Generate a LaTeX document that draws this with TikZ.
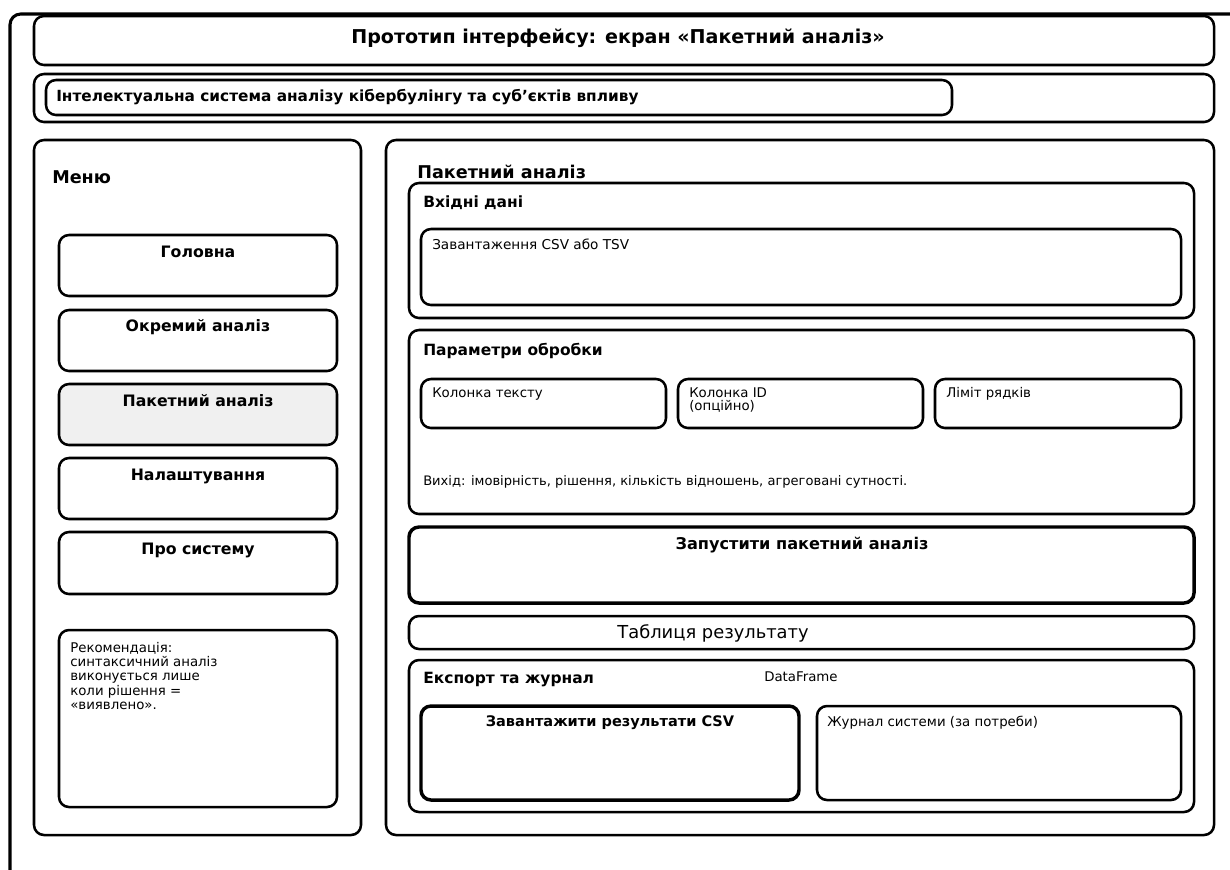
\documentclass[tikz,border=0pt]{standalone}
\usepackage{fontspec}
\setmainfont{DejaVu Sans}
\tikzset{
  frame/.style={draw=black, line width=2.3pt, rounded corners=8pt},
  box/.style={draw=black, line width=1.9pt, rounded corners=7.5pt},
  boldbox/.style={draw=black, line width=2.6pt, rounded corners=7.5pt},
  selbox/.style={box, fill=black!6},
  head/.style={inner sep=0pt, font=\bfseries\fontsize{14.3}{17}\selectfont},
  lbl/.style={inner sep=0pt, anchor=west, font=\bfseries\fontsize{11.6}{14}\selectfont},
  btn/.style={inner sep=0pt, font=\bfseries\fontsize{11.8}{14}\selectfont},
  txt/.style={inner sep=0pt, anchor=west, font=\fontsize{10}{12}\selectfont},
}
\begin{document}
\begin{tikzpicture}[x=0.75pt, y=-0.75pt]
\useasboundingbox (0,0) rectangle (1230,869);
\begin{scope}
\clip (0,0) rectangle (1230,869);
% outer window frame
\draw[frame] (10,14) rectangle (1260,900);
\end{scope}

% header bars
\draw[box] (34,16) rectangle (1214,65);
\node[head] (title) at (618,38) {Прототип інтерфейсу: екран «Пакетний аналіз»};
\draw[box] (34,74) rectangle (1214,122);
\draw[box] (46,80) rectangle (952,115);
\node[lbl, font=\bfseries\fontsize{11.5}{14}\selectfont] (subtitle) at (56,97) {Інтелектуальна система аналізу кібербулінгу та суб’єктів впливу};

% left menu panel
\draw[box] (34,140) rectangle (361,835);
\node[lbl, font=\bfseries\fontsize{13.2}{15}\selectfont] (menu) at (52,177) {Меню};

\draw[box] (59,235) rectangle (337,296);
\node[btn] (m1) at (198,252) {Головна};
\draw[box] (59,310) rectangle (337,371);
\node[btn] (m2) at (198,327) {Окремий аналіз};
\draw[selbox] (59,384) rectangle (337,445);
\node[btn] (m3) at (198,401) {Пакетний аналіз};
\draw[box] (59,458) rectangle (337,519);
\node[btn] (m4) at (198,476) {Налаштування};
\draw[box] (59,532) rectangle (337,594);
\node[btn] (m5) at (198,550) {Про систему};

\draw[box] (59,630) rectangle (337,807);
\node[txt, anchor=north west, align=left, font=\fontsize{10}{10.7}\selectfont] (note) at (70,642)
  {Рекомендація:\\синтаксичний аналіз\\виконується лише\\коли рішення =\\«виявлено».};

% right content panel
\draw[box] (386,140) rectangle (1214,835);
\node[lbl, font=\bfseries\fontsize{13.2}{15}\selectfont] (ptitle) at (417,172) {Пакетний аналіз};

% input data
\draw[box] (409,183) rectangle (1194,318);
\node[lbl] (inhead) at (423,203) {Вхідні дані};
\draw[box] (421,229) rectangle (1181,305);
\node[txt, font=\fontsize{10.2}{12}\selectfont] (upload) at (432,244) {Завантаження CSV або TSV};

% processing parameters
\draw[box] (409,330) rectangle (1194,514);
\node[lbl] (parhead) at (423,351) {Параметри обробки};
\draw[box] (421,379) rectangle (666,428);
\node[txt] (p1) at (432,394) {Колонка тексту};
\draw[box] (678,379) rectangle (923,428);
\node[txt, anchor=north west, align=left, font=\fontsize{10}{9.75}\selectfont] (p2) at (689,388) {Колонка ID\\(опційно)};
\draw[box] (935,379) rectangle (1181,428);
\node[txt] (p3) at (946,394) {Ліміт рядків};
\node[txt, font=\fontsize{9.8}{12}\selectfont] (out) at (423,482) {Вихід: імовірність, рішення, кількість відношень, агреговані сутності.};

% run button
\draw[boldbox] (409,527) rectangle (1194,603);
\node[btn, font=\bfseries\fontsize{12.1}{14}\selectfont] (run) at (802,545) {Запустити пакетний аналіз};

% result table
\draw[box] (409,616) rectangle (1194,649);
\node[inner sep=0pt, font=\fontsize{13.4}{16}\selectfont] (table) at (713,633) {Таблиця результату};

% export and log
\draw[box] (409,660) rectangle (1194,812);
\node[lbl] (exphead) at (423,680) {Експорт та журнал};
\node[txt] (df) at (764,677) {DataFrame};
\draw[boldbox] (421,706) rectangle (799,800);
\node[btn, font=\bfseries\fontsize{10.9}{13}\selectfont] (dl) at (610,723) {Завантажити результати CSV};
\draw[box] (817,706) rectangle (1181,800);
\node[txt] (log) at (827,723) {Журнал системи (за потреби)};
\end{tikzpicture}
\end{document}
